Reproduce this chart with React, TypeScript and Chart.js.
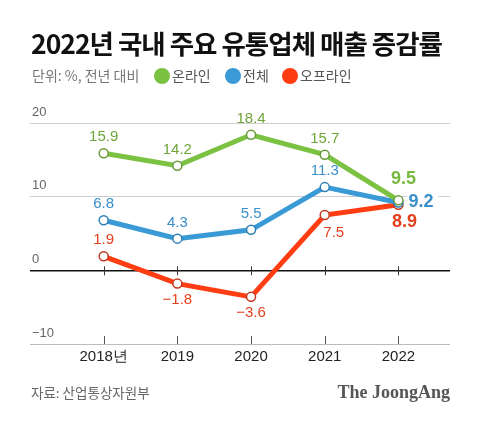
import React, { useEffect, useRef } from "react";
import { Chart, registerables } from "chart.js";

Chart.register(...registerables);

const years = ["2018년", "2019", "2020", "2021", "2022"];
const online = [15.9, 14.2, 18.4, 15.7, 9.5];
const total = [6.8, 4.3, 5.5, 11.3, 9.2];
const offline = [1.9, -1.8, -3.6, 7.5, 8.9];
const yTicks = [20, 10, 0, -10];
const yTickLabels = ["20", "10", "0", "\u221210"];

const TITLE = "2022년 국내 주요 유통업체 매출 증감률";
const UNIT = "단위: %, 전년 대비";
const SOURCE = "자료: 산업통상자원부";
const BRAND = "The JoongAng";

// label placement per point (style, not data)
const onlinePos = ["above", "above", "above", "above", "lastAbove"];
const totalPos = ["above", "above", "above", "above", "lastRight"];
const offlinePos = ["above", "below", "below", "belowRight", "lastBelow"];

const GREEN = "#7cc242";
const BLUE = "#3a9ad6";
const RED = "#ff3d12";

const fmt = (v: number) => (v < 0 ? "\u2212" + Math.abs(v).toFixed(1) : v.toFixed(1));

const SANS = "'Liberation Sans', 'Noto Sans', sans-serif";
const KR = "'Noto Sans CJK KR', 'Noto Sans', sans-serif";

const decorPlugin = {
  id: "decor",
  beforeDatasetsDraw(chart: any) {
    const ctx = chart.ctx;
    const x = chart.scales.x;
    const y = chart.scales.y;
    ctx.save();
    const y0 = y.getPixelForValue(0);
    const yb = y.getPixelForValue(-10);
    years.forEach((_, i) => {
      const px = Math.round(x.getPixelForValue(i)) + 0.5;
      ctx.strokeStyle = "#333";
      ctx.lineWidth = 1;
      ctx.beginPath();
      ctx.moveTo(px, y0 - 4);
      ctx.lineTo(px, y0 + 5);
      ctx.stroke();
      ctx.strokeStyle = "#555";
      ctx.beginPath();
      ctx.moveTo(px, yb - 8);
      ctx.lineTo(px, yb);
      ctx.stroke();
    });
    ctx.restore();
  },
  afterDraw(chart: any) {
    const ctx = chart.ctx;
    const y = chart.scales.y;
    const left = chart.chartArea.left;
    ctx.save();
    ctx.font = `13px ${SANS}`;
    ctx.fillStyle = "#666";
    ctx.textAlign = "left";
    ctx.textBaseline = "middle";
    yTicks.forEach((v, i) => {
      ctx.fillText(yTickLabels[i], left + 2, y.getPixelForValue(v) - 11);
    });

    ctx.fillStyle = "#111";
    ctx.font = `bold 26.5px ${KR}`;
    ctx.textBaseline = "middle";
    (ctx as any).letterSpacing = "-1px";
    ctx.fillText(TITLE, 31, 44);
    (ctx as any).letterSpacing = "0px";

    ctx.font = `14px ${KR}`;
    ctx.fillStyle = "#777";
    ctx.fillText(UNIT, 32, 76);
    const legend = [
      { c: GREEN, t: "온라인", cx: 162 },
      { c: BLUE, t: "전체", cx: 233 },
      { c: RED, t: "오프라인", cx: 290 },
    ];
    legend.forEach((l) => {
      ctx.fillStyle = l.c;
      ctx.beginPath();
      ctx.arc(l.cx, 76, 8, 0, Math.PI * 2);
      ctx.fill();
      ctx.fillStyle = "#555";
      ctx.fillText(l.t, l.cx + 10, 76);
    });

    ctx.font = `13.5px ${KR}`;
    ctx.fillStyle = "#666";
    ctx.fillText(SOURCE, 31, 393);
    ctx.font = `bold 18px 'Liberation Serif', 'DejaVu Serif', serif`;
    ctx.fillStyle = "#555";
    ctx.textAlign = "right";
    ctx.fillText(BRAND, 450, 393);
    ctx.restore();
  },
  afterDatasetsDraw(chart: any) {
    const ctx = chart.ctx;
    ctx.save();
    ctx.textBaseline = "middle";
    chart.data.datasets.forEach((ds: any, di: number) => {
      const meta = chart.getDatasetMeta(di);
      const pos: string[] = ds.labelPos;
      meta.data.forEach((pt: any, i: number) => {
        const v = ds.data[i].y;
        const p = pos[i];
        const txt = fmt(v);
        let lx = pt.x;
        let ly = pt.y;
        ctx.textAlign = "center";
        if (p.startsWith("last")) {
          ctx.font = `bold 18px ${SANS}`;
          ctx.fillStyle = ds.lastColor;
          if (p === "lastAbove") {
            lx += 5;
            ly -= 21;
          } else if (p === "lastRight") {
            lx += 10;
            ly -= 1;
            ctx.textAlign = "left";
            const w = ctx.measureText(txt).width;
            ctx.fillStyle = "#fff";
            ctx.fillRect(lx - 1, ly - 8, w + 6, 16);
            ctx.fillStyle = ds.lastColor;
          } else {
            lx += 6;
            ly += 17;
          }
        } else {
          ctx.font = `15px ${SANS}`;
          ctx.fillStyle = ds.labelColor;
          if (p === "above") ly -= 16;
          else if (p === "below") ly += 16;
          else {
            lx += 9;
            ly += 18;
          }
        }
        ctx.fillText(txt, lx, ly);
      });
    });
    ctx.restore();
  },
};

const toPoints = (data: number[]) => data.map((v, i) => ({ x: i, y: v }));

export default function App() {
  const ref = useRef<HTMLCanvasElement>(null);
  useEffect(() => {
    if (!ref.current) return;
    const common = {
      borderWidth: 5,
      pointRadius: 4.5,
      pointBorderWidth: 1.5,
      pointBackgroundColor: "#fff",
    };
    const chart = new Chart(ref.current, {
      type: "line",
      data: {
        datasets: [
          {
            ...common,
            label: "온라인",
            data: toPoints(online),
            borderColor: GREEN,
            pointBorderColor: "#6a9a3a",
            order: 1,
            labelPos: onlinePos,
            labelColor: "#6fa53a",
            lastColor: "#78b83e",
          } as any,
          {
            ...common,
            label: "전체",
            data: toPoints(total),
            borderColor: BLUE,
            pointBorderColor: "#2f7fb5",
            order: 2,
            labelPos: totalPos,
            labelColor: "#3a8fc9",
            lastColor: "#3a8fc9",
          } as any,
          {
            ...common,
            label: "오프라인",
            data: toPoints(offline),
            borderColor: RED,
            pointBorderColor: "#c03a22",
            order: 3,
            labelPos: offlinePos,
            labelColor: "#e5401e",
            lastColor: "#e23f1c",
          } as any,
        ],
      },
      options: {
        animation: false,
        responsive: false,
        maintainAspectRatio: false,
        layout: { padding: { top: 123, left: 30, right: 30, bottom: 52 } },
        plugins: { legend: { display: false }, tooltip: { enabled: false } },
        scales: {
          x: {
            type: "linear",
            min: -1,
            max: 4.7,
            afterBuildTicks: (s: any) => {
              s.ticks = years.map((_, i) => ({ value: i }));
            },
            ticks: {
              callback: (v: any) => years[v as number] ?? "",
              font: { size: 15, family: SANS },
              color: "#222",
              padding: 4,
              maxRotation: 0,
              autoSkip: false,
            },
            grid: { display: false, drawTicks: false },
            border: { display: false },
          },
          y: {
            min: -10,
            max: 20,
            afterBuildTicks: (s: any) => {
              s.ticks = yTicks.map((v) => ({ value: v }));
            },
            ticks: { display: false },
            grid: {
              drawTicks: false,
              color: (c: any) =>
                c.tick && c.tick.value === 0 ? "#111" : c.tick && c.tick.value === -10 ? "#bbb" : "#cfcfcf",
              lineWidth: (c: any) => (c.tick && c.tick.value === 0 ? 1.5 : 1),
            },
            border: { display: false },
          },
        },
      } as any,
      plugins: [decorPlugin],
    });
    return () => chart.destroy();
  }, []);
  return (
    <div style={{ position: "fixed", left: 0, top: 0, width: 480, height: 422, background: "#fff" }}>
      <canvas ref={ref} width={480} height={422} style={{ width: 480, height: 422 }} />
    </div>
  );
}
